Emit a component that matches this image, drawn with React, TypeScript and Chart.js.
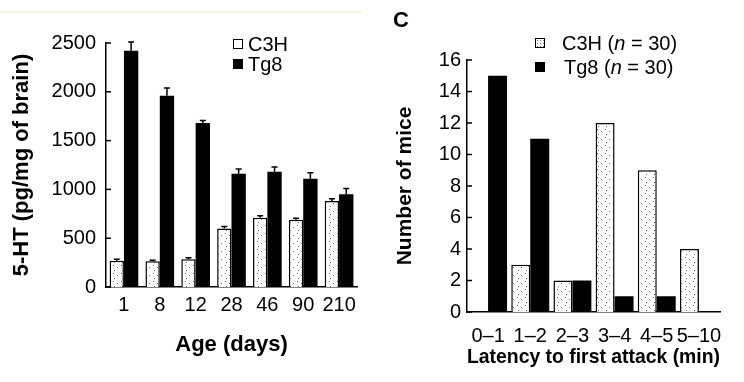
import React, { useEffect, useRef } from "react";
import { Chart, registerables } from "chart.js";

Chart.register(...registerables);

// ---- Panel B data: 5-HT by age ----
const ageCategories = ["1", "8", "12", "28", "46", "90", "210"];
const c3hSerotonin = [270, 265, 285, 600, 710, 690, 880];
const c3hSerotoninErr = [15, 10, 15, 20, 20, 15, 25];
const tg8Serotonin = [2420, 1960, 1680, 1160, 1180, 1110, 950];
const tg8SerotoninErr = [90, 80, 25, 50, 50, 60, 60];
const serotoninTickMax = 2500;
const serotoninTickStep = 500;

// ---- Panel C data: latency to first attack ----
const latencyCategories = ["0\u20131", "1\u20132", "2\u20133", "3\u20134", "4\u20135", "5\u201310"];
const c3hMice = [0, 3, 2, 12, 9, 4];
const tg8Mice = [15, 11, 2, 1, 1, 0];
const miceTickMax = 16;
const miceTickStep = 2;

const FONT = "'Liberation Sans', Arial, Helvetica, sans-serif";

function makeStipple(ctx: CanvasRenderingContext2D, dots: string) {
  const c = document.createElement("canvas");
  c.width = 8;
  c.height = 8;
  const g = c.getContext("2d")!;
  g.fillStyle = "#ffffff";
  g.fillRect(0, 0, 8, 8);
  g.fillStyle = dots;
  [[1, 1], [5, 3], [2, 6]].forEach(([x, y]) => g.fillRect(x, y, 1, 1));
  return ctx.createPattern(c, "repeat");
}

const inwardTicks = {
  id: "inwardTicks",
  afterDatasetsDraw(chart: any) {
    const y = chart.scales.y;
    const ctx = chart.ctx;
    const x0 = chart.chartArea.left;
    ctx.save();
    ctx.strokeStyle = "#000";
    ctx.lineWidth = 1.5;
    y.ticks.forEach((t: any) => {
      const p = y.getPixelForValue(t.value);
      ctx.beginPath();
      ctx.moveTo(x0, p);
      ctx.lineTo(x0 + 5, p);
      ctx.stroke();
    });
    ctx.restore();
  },
};

const errorBars = {
  id: "errorBars",
  afterDatasetsDraw(chart: any) {
    const ctx = chart.ctx;
    const y = chart.scales.y;
    ctx.save();
    ctx.strokeStyle = "#000";
    ctx.lineWidth = 1.5;
    chart.data.datasets.forEach((ds: any, i: number) => {
      if (!ds.errorValues) return;
      const meta = chart.getDatasetMeta(i);
      meta.data.forEach((bar: any, j: number) => {
        const v = ds.data[j];
        const top = y.getPixelForValue(v + ds.errorValues[j]);
        ctx.beginPath();
        ctx.moveTo(bar.x, bar.y);
        ctx.lineTo(bar.x, top);
        ctx.moveTo(bar.x - 3, top);
        ctx.lineTo(bar.x + 3, top);
        ctx.stroke();
      });
    });
    ctx.restore();
  },
};

function axisCommon() {
  return {
    grid: { display: false, drawTicks: false },
    border: { display: true, color: "#000", width: 1.5 },
  };
}

export default function App() {
  const leftRef = useRef<HTMLCanvasElement>(null);
  const rightRef = useRef<HTMLCanvasElement>(null);

  useEffect(() => {
    document.body.style.margin = "0";
    const lctx = leftRef.current!.getContext("2d")!;
    const rctx = rightRef.current!.getContext("2d")!;
    const lPattern = makeStipple(lctx, "#6a6a6a");
    const rPattern = makeStipple(rctx, "#6a6a6a");

    const left = new Chart(lctx, {
      type: "bar",
      data: {
        labels: ageCategories,
        datasets: [
          {
            label: "C3H",
            data: c3hSerotonin,
            backgroundColor: lPattern as any,
            borderColor: "#000",
            borderWidth: 1.5,
            errorValues: c3hSerotoninErr,
          } as any,
          {
            label: "Tg8",
            data: tg8Serotonin,
            backgroundColor: "#000",
            borderColor: "#000",
            borderWidth: 0,
            errorValues: tg8SerotoninErr,
          } as any,
        ],
      },
      options: {
        responsive: false,
        animation: false,
        layout: { padding: { top: 43, right: 15, bottom: 0, left: 0 } },
        datasets: { bar: { categoryPercentage: 0.8, barPercentage: 1 } },
        plugins: { legend: { display: false }, tooltip: { enabled: false } },
        scales: {
          x: {
            ...axisCommon(),
            ticks: { font: { family: FONT, size: 20 }, color: "#000", padding: 6, maxRotation: 0, autoSkip: false },
            title: {
              display: true,
              text: "Age (days)",
              color: "#000",
              font: { family: FONT, size: 22, weight: "bold" },
              padding: { top: 0, bottom: 24 },
            },
            afterFit: (s: any) => {
              s.height = 95;
            },
          },
          y: {
            ...axisCommon(),
            min: 0,
            max: serotoninTickMax,
            ticks: {
              stepSize: serotoninTickStep,
              font: { family: FONT, size: 20 },
              color: "#000",
              padding: 10,
              callback: (v: any) => String(v),
            },
            title: {
              display: true,
              text: "5-HT (pg/mg of brain)",
              color: "#000",
              font: { family: FONT, size: 22, weight: "bold" },
              padding: { top: 9, bottom: 0 },
            },
            afterFit: (s: any) => {
              s.width = 106;
            },
          },
        },
      } as any,
      plugins: [inwardTicks, errorBars],
    });

    const right = new Chart(rctx, {
      type: "bar",
      data: {
        labels: latencyCategories,
        datasets: [
          {
            label: "C3H (n = 30)",
            data: c3hMice,
            backgroundColor: rPattern as any,
            borderColor: "#000",
            borderWidth: 1.5,
          },
          {
            label: "Tg8 (n = 30)",
            data: tg8Mice,
            backgroundColor: "#000",
            borderColor: "#000",
            borderWidth: 0,
          },
        ],
      },
      options: {
        responsive: false,
        animation: false,
        layout: { padding: { top: 60, right: 24, bottom: 0, left: 0 } },
        datasets: { bar: { categoryPercentage: 0.9, barPercentage: 1 } },
        plugins: { legend: { display: false }, tooltip: { enabled: false } },
        scales: {
          x: {
            ...axisCommon(),
            ticks: { font: { family: FONT, size: 20 }, color: "#000", padding: 12, maxRotation: 0, autoSkip: false },
            title: {
              display: true,
              text: "Latency to first attack (min)",
              color: "#000",
              font: { family: FONT, size: 21, weight: "bold" },
              padding: { top: 0, bottom: 12 },
            },
            afterFit: (s: any) => {
              s.height = 70;
            },
          },
          y: {
            ...axisCommon(),
            min: 0,
            max: miceTickMax,
            ticks: { stepSize: miceTickStep, font: { family: FONT, size: 20 }, color: "#000", padding: 6 },
            title: {
              display: true,
              text: "Number of mice",
              color: "#000",
              font: { family: FONT, size: 21, weight: "bold" },
              padding: { top: 21, bottom: 0 },
            },
            afterFit: (s: any) => {
              s.width = 95;
            },
          },
        },
      } as any,
      plugins: [inwardTicks],
    });

    return () => {
      left.destroy();
      right.destroy();
    };
  }, []);

  const row = (top: number, left: number): React.CSSProperties => ({
    position: "absolute",
    top,
    left,
    height: 22,
    display: "flex",
    alignItems: "center",
    fontFamily: FONT,
    fontSize: 20,
    color: "#000",
    whiteSpace: "nowrap",
  });
  const swatch = (bg: string, border: boolean): React.CSSProperties => ({
    width: border ? 8 : 10,
    height: border ? 8 : 10,
    background: bg,
    border: border ? "1.5px solid #000" : "none",
    marginRight: border ? 5 : 5,
    flex: "none",
  });
  const stippleCss = "radial-gradient(circle, #777 0.7px, #fff 0.9px) 0 0 / 3px 3px";

  return (
    <div style={{ position: "absolute", left: 0, top: 0, width: 744, height: 382, background: "#fff" }}>
      <div style={{ position: "absolute", left: 0, top: 11, width: 362, height: 2, background: "#fbf6e2" }} />
      <canvas ref={leftRef} width={372} height={382} style={{ position: "absolute", left: 0, top: 0 }} />
      <canvas ref={rightRef} width={372} height={382} style={{ position: "absolute", left: 372, top: 0 }} />
      <div style={row(33, 233)}>
        <span style={swatch("#fff", true)} />
        <span>C3H</span>
      </div>
      <div style={row(53, 233)}>
        <span style={swatch("#000", false)} />
        <span>Tg8</span>
      </div>
      <div
        style={{
          position: "absolute",
          left: 393,
          top: 7,
          fontFamily: FONT,
          fontWeight: "bold",
          fontSize: 22,
          color: "#000",
        }}
      >
        C
      </div>
      <div style={row(32, 535)}>
        <span style={{ ...swatch(stippleCss, true), marginRight: 17 }} />
        <span>
          C3H (<i>n</i> = 30)
        </span>
      </div>
      <div style={row(56, 535)}>
        <span style={{ ...swatch("#000", false), marginRight: 19 }} />
        <span>
          Tg8 (<i>n</i> = 30)
        </span>
      </div>
    </div>
  );
}
